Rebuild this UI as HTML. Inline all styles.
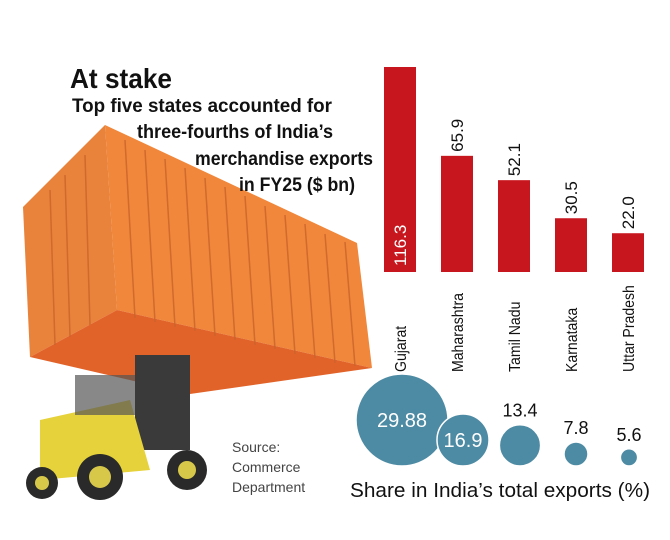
<!DOCTYPE html>
<html><head><meta charset="utf-8"><style>
body{margin:0;background:#fff;}
svg{display:block;font-family:"Liberation Sans Narrow","Liberation Sans",sans-serif;}
</style></head><body>
<svg id="chart" width="670" height="540" viewBox="0 0 670 540">
<g>
  <polygon points="105,125 357,243 372,368 117,310" fill="#f0873a"/>
  <polygon points="23,207 105,125 117,310 30,357" fill="#e9823a"/>
  <polygon points="30,357 117,310 372,368 190,394" fill="#e2632a"/>
  <g stroke="#c9642a" stroke-width="1.5" opacity="0.8">
    <line x1="125" y1="140" x2="135" y2="318"/><line x1="145" y1="150" x2="155" y2="322"/>
    <line x1="165" y1="159" x2="175" y2="327"/><line x1="185" y1="168" x2="195" y2="331"/>
    <line x1="205" y1="178" x2="215" y2="336"/><line x1="225" y1="187" x2="235" y2="340"/>
    <line x1="245" y1="196" x2="255" y2="345"/><line x1="265" y1="206" x2="275" y2="349"/>
    <line x1="285" y1="215" x2="295" y2="354"/><line x1="305" y1="224" x2="315" y2="358"/>
    <line x1="325" y1="234" x2="335" y2="363"/><line x1="345" y1="242" x2="355" y2="366"/>
    <line x1="50" y1="190" x2="55" y2="345"/><line x1="65" y1="175" x2="70" y2="337"/>
    <line x1="85" y1="155" x2="90" y2="325"/>
  </g>
</g>
<g>
  <rect x="135" y="355" width="55" height="95" fill="#3a3a3a"/>
  <polygon points="40,420 130,400 150,470 40,480" fill="#e6d23a"/>
  <rect x="75" y="375" width="60" height="40" fill="#555" opacity="0.7"/>
  <circle cx="42" cy="483" r="16" fill="#2a2a2a"/>
  <circle cx="42" cy="483" r="7" fill="#d8c84a"/>
  <circle cx="100" cy="477" r="23" fill="#2a2a2a"/>
  <circle cx="100" cy="477" r="11" fill="#d8c84a"/>
  <circle cx="187" cy="470" r="20" fill="#2a2a2a"/>
  <circle cx="187" cy="470" r="9" fill="#d8c84a"/>
</g>
<text x="70" y="88" font-size="28" font-weight="bold" fill="#111" textLength="102" lengthAdjust="spacingAndGlyphs">At stake</text>
<g font-size="19" font-weight="bold" fill="#111">
  <text x="72" y="112" textLength="260" lengthAdjust="spacingAndGlyphs">Top five states accounted for</text>
  <text x="137" y="138" textLength="196" lengthAdjust="spacingAndGlyphs">three-fourths of India’s</text>
  <text x="195" y="165" textLength="178" lengthAdjust="spacingAndGlyphs">merchandise exports</text>
  <text x="239" y="191" textLength="116" lengthAdjust="spacingAndGlyphs">in FY25 ($ bn)</text>
</g>
<g id="bars"></g>
<g id="bubbles"></g>
<g font-size="14" fill="#444" font-family="Liberation Sans, sans-serif">
  <text x="232" y="452">Source:</text>
  <text x="232" y="472">Commerce</text>
  <text x="232" y="492">Department</text>
</g>
<text x="350" y="497" font-size="20" fill="#111" textLength="300" lengthAdjust="spacingAndGlyphs">Share in India’s total exports (%)</text>
</svg>
<script>
const states = ["Gujarat","Maharashtra","Tamil Nadu","Karnataka","Uttar Pradesh"];
const exportsBn = [116.3, 65.9, 52.1, 30.5, 22.0];
const exportLabels = ["116.3","65.9","52.1","30.5","22.0"];
const shares = [29.88, 16.9, 13.4, 7.8, 5.6];
const shareLabels = ["29.88","16.9","13.4","7.8","5.6"];

const NS = "http://www.w3.org/2000/svg";
const baseY = 272, pxPerBn = 205/116.3;
const xCenter = i => 400 + i*57;
const yScale = v => baseY - v*pxPerBn;
const rScale = v => v*46/29.88;
const bubbleBase = 466;
function mk(tag, attrs){const e=document.createElementNS(NS,tag);for(const k in attrs)e.setAttribute(k,attrs[k]);return e;}
const bars=document.getElementById('bars'), bubbles=document.getElementById('bubbles');
states.forEach((s,i)=>{
  const cx=xCenter(i), top=yScale(exportsBn[i]);
  const r=mk('rect',{x:cx-16,y:top,width:32,height:baseY-top,fill:'#c8161e'});
  
  
  bars.appendChild(r);
  const inside = i===0;
  const vy = inside ? baseY-6 : top-4;
  const v=mk('text',{x:0,y:0,'font-size':17,fill:inside?'#fff':'#111',transform:`translate(${cx+6},${vy}) rotate(-90)`});
  v.textContent=exportLabels[i];
  
  
  bars.appendChild(v);
  const l=mk('text',{x:0,y:0,'font-size':16,fill:'#111','text-anchor':'start',transform:`translate(${cx+6},${372}) rotate(-90)`});
  l.textContent=s;
  
  
  bars.appendChild(l);
  const w=l.getComputedTextLength();
  l.setAttribute('textLength', (w*0.88).toFixed(1));
  l.setAttribute('lengthAdjust','spacingAndGlyphs');
  const bx = [402,463,520,576,629][i];
  const rad=rScale(shares[i]);
  const c=mk('circle',{cx:bx,cy:bubbleBase-rad,r:rad,fill:'#4d8aa3',stroke:'#fff','stroke-width':1.5});
  
  
  bubbles.appendChild(c);
  const inB = i<2;
  const t=mk('text',{x:bx,y:inB?bubbleBase-rad+7:bubbleBase-2*rad-8,'font-size':inB?20:18,fill:inB?'#fff':'#111','text-anchor':'middle'});
  t.textContent=shareLabels[i];
  
  
  bubbles.appendChild(t);
});
</script>
</body></html>
